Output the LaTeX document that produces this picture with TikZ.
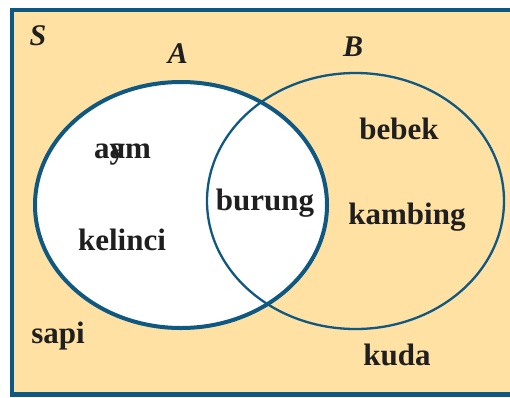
\documentclass[tikz,border=0pt]{standalone}
\usepackage{fontspec}
\setmainfont{Liberation Serif}
\usetikzlibrary{positioning}
\tikzset{
  elem/.style={font=\fontsize{31}{36}\selectfont\bfseries,text=ink,anchor=base,inner sep=0pt},
  setname/.style={font=\fontsize{30}{36}\selectfont\bfseries\itshape,text=ink,anchor=base,inner sep=0pt}
}
\begin{document}
\begin{tikzpicture}[x=1pt,y=-1pt]
\colorlet{ink}{black!88}\definecolor{edge}{RGB}{14,88,130}\definecolor{univ}{RGB}{254,225,163}
\useasboundingbox (0,0) rectangle (510,397);
\clip (0,0) rectangle (510,397);
% ---- universe S (open at the right edge) ----
\fill[univ] (12,10) rectangle (530,394.5);
\draw[line width=4.5pt,edge] (530,10) -- (12,10) -- (12,394.5) -- (530,394.5);
% ---- sets A and B ----
\fill[white] (181,205) ellipse (146 and 123);
\draw[line width=2.3pt,edge] (355.5,201) ellipse (148.5 and 128);
\draw[line width=4pt,edge] (181,205) ellipse (146 and 123);
% labels of the sets
\node[setname] (S) at (38,45) {S};
\node[setname] (A) at (178,63) {A};
\node[setname] (B) at (353,56) {B};
% ---- members ----
\node[elem] (ayam) at (122.5,158) {a\rlap{y}am};
\node[elem] (kelinci) at (122,250) {kelinci};
\node[elem] (burung) at (265,210) {burung};
\node[elem] (bebek) at (399,139) {bebek};
\node[elem] (kambing) at (407,224) {kambing};
\node[elem] (sapi) at (58,343) {sapi};
\node[elem] (kuda) at (397,365) {kuda};
\end{tikzpicture}
\end{document}
